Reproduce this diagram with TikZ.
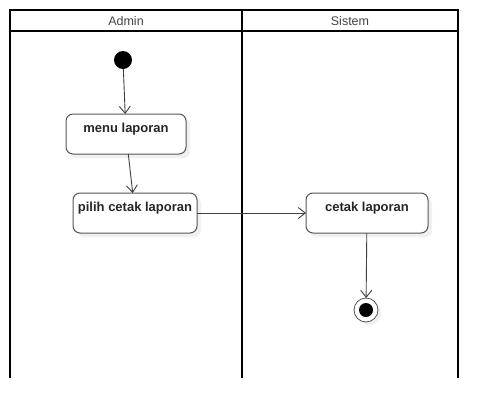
\documentclass[tikz,border=0pt]{standalone}
\usepackage{fontspec}
\setmainfont{Liberation Sans}
\usetikzlibrary{arrows.meta,shadows}
\definecolor{boxline}{HTML}{555555}
\definecolor{headtext}{HTML}{444444}
\begin{document}
\begin{tikzpicture}[x=1pt,y=-1pt,inner sep=0pt,outer sep=0pt,
lane/.style={line width=2pt,black},
head/.style={font=\fontsize{12.5}{15}\selectfont,text=headtext},
action/.style={draw=boxline,fill=white,rounded corners=7pt,line width=1pt,
  minimum width=120pt,minimum height=40pt,text height=18.5pt,text depth=21.5pt,
  font=\bfseries\fontsize{13}{15}\selectfont,text=black!85,
  drop shadow={opacity=0.12,shadow xshift=4pt,shadow yshift=-4pt}},
startnode/.style={circle,fill=black,minimum size=18pt},
endnode/.style={circle,draw=boxline,fill=white,line width=0.8pt,minimum size=24pt,
  drop shadow={opacity=0.12,shadow xshift=3pt,shadow yshift=-3pt},
  path picture={\fill[black] (path picture bounding box.center) circle (7pt);}},
flow/.style={-{Straight Barb[length=7pt,width=11pt]},draw=black!75,line width=0.9pt}]

\useasboundingbox (0,0) rectangle (498,418);

% swimlanes
\draw[lane] (10,378) -- (10,10) -- (458,10) -- (458,378);
\draw[lane] (10,31) -- (458,31);
\draw[lane] (242,10) -- (242,378);
\node[head] (admin) at (126,21) {Admin};
\node[head] (sistem) at (350,21) {Sistem};

% activities
\node[startnode] (start) at (123,60) {};
\node[action] (menu) at (126,134) {menu laporan};
\node[action,minimum width=124pt] (pilih) at (135,213) {pilih cetak laporan};
\node[action,minimum width=122pt] (cetak) at (367,213) {cetak laporan};
\node[endnode] (end) at (366,310) {};

\draw[flow] (start) -- (menu);
\draw[flow] (menu) -- (pilih);
\draw[flow] (pilih) -- (cetak);
\draw[flow] (cetak) -- (end);

\end{tikzpicture}
\end{document}
